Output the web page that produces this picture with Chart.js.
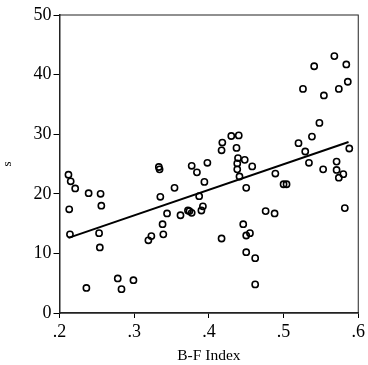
<!DOCTYPE html>
<html>
<head>
<meta charset="utf-8">
<script src="https://cdn.jsdelivr.net/npm/chart.js@4"></script>
<style>
  html, body { margin: 0; padding: 0; background: #fff; }
  #scatter-chart { display: block; }
</style>
</head>
<body>
<canvas id="scatter-chart" width="368" height="365"></canvas>
<script>
// B-F index vs s
const bfIndex = [
  0.212, 0.215, 0.221, 0.239, 0.255, 0.213, 0.256, 0.214, 0.253, 0.254,
  0.319, 0.323, 0.278, 0.299, 0.283, 0.236, 0.333, 0.334, 0.377, 0.398,
  0.384, 0.418, 0.417, 0.430, 0.440, 0.437, 0.439, 0.448, 0.438, 0.438,
  0.441, 0.394, 0.354, 0.335, 0.387, 0.450, 0.344, 0.362, 0.372, 0.374,
  0.377, 0.390, 0.392, 0.338, 0.339, 0.417, 0.446, 0.450, 0.455, 0.450,
  0.462, 0.462, 0.476, 0.488, 0.582, 0.500, 0.504, 0.489, 0.458, 0.568,
  0.584, 0.541, 0.586, 0.574, 0.526, 0.554, 0.548, 0.538, 0.520, 0.529,
  0.588, 0.534, 0.553, 0.571, 0.571, 0.574, 0.580,
];
const sValues = [
  23.2, 22.1, 20.9, 20.1, 20.0, 17.4, 18.0, 13.2, 13.4, 11.0,
  12.2, 12.9, 5.8, 5.5, 4.0, 4.2, 24.5, 24.1, 24.7, 25.2,
  23.6, 28.6, 27.3, 29.7, 29.8, 27.7, 26.0, 25.7, 25.1, 24.1,
  22.9, 22.0, 21.0, 19.5, 19.6, 21.0, 16.7, 16.4, 17.2, 17.1,
  16.8, 17.2, 17.9, 14.9, 13.2, 12.5, 14.9, 13.0, 13.4, 10.2,
  9.2, 4.8, 17.1, 16.7, 17.6, 21.6, 21.6, 23.4, 24.6, 43.1,
  41.7, 41.4, 38.8, 37.6, 37.6, 36.5, 31.9, 29.6, 28.5, 27.1,
  27.6, 25.2, 24.1, 25.4, 24.0, 22.7, 23.3,
];
// fitted line end points
const fitX = [0.212, 0.587];
const fitY = [12.6, 28.7];

const xTicks = [0.2, 0.3, 0.4, 0.5, 0.6];
const yTicks = [0, 10, 20, 30, 40, 50];

const serif = "'Liberation Serif', 'Times New Roman', serif";

const boxPlugin = {
  id: "box",
  afterDraw(chart) {
    const { ctx, chartArea } = chart;
    ctx.save();
    ctx.strokeStyle = "#222";
    ctx.lineWidth = 1;
    ctx.strokeRect(chartArea.left, chartArea.top, chartArea.right - chartArea.left, chartArea.bottom - chartArea.top);
    ctx.restore();
  },
};

const scatterChart = document.getElementById("scatter-chart");
const scatterChartInstance = new Chart(scatterChart, {
  type: "scatter",
  data: {
    datasets: [
      {
        label: "s",
        data: bfIndex.map((x, i) => ({ x: x, y: sValues[i] })),
        pointStyle: "circle",
        pointRadius: 3.1,
        pointBorderWidth: 1.6,
        pointBorderColor: "#000",
        pointBackgroundColor: "rgba(0,0,0,0)",
      },
      {
        type: "line",
        label: "fit",
        data: fitX.map((x, i) => ({ x: x, y: fitY[i] })),
        borderColor: "#000",
        borderWidth: 2,
        pointRadius: 0,
        fill: false,
      },
    ],
  },
  options: {
    responsive: false,
    animation: false,
    layout: {
      padding: { top: 15, right: 8.5, bottom: 0, left: 0 },
    },
    plugins: {
      legend: { display: false },
      tooltip: { enabled: false },
    },
    scales: {
      x: {
        type: "linear",
        min: 0.2,
        max: 0.6,
        afterBuildTicks: (scale) => {
          scale.ticks = xTicks.map((v) => ({ value: v }));
        },
        afterFit: (scale) => {
          scale.height = 52;
        },
        ticks: {
          color: "#000",
          padding: 3,
          maxRotation: 0,
          font: { family: serif, size: 18 },
          callback: (v) => v.toFixed(1).replace(/^0/, ""),
        },
        grid: {
          drawOnChartArea: false,
          drawTicks: true,
          tickLength: 5,
          color: "#000",
        },
        border: { display: true, color: "#222", width: 1.5 },
        title: {
          display: true,
          text: "B-F Index",
          color: "#000",
          padding: { top: 0, bottom: 0 },
          font: { family: serif, size: 15.5 },
        },
      },
      y: {
        type: "linear",
        min: 0,
        max: 50,
        afterBuildTicks: (scale) => {
          scale.ticks = yTicks.map((v) => ({ value: v }));
        },
        afterFit: (scale) => {
          scale.width = 59.5;
        },
        ticks: {
          color: "#000",
          padding: 2,
          font: { family: serif, size: 18 },
        },
        grid: {
          drawOnChartArea: false,
          drawTicks: true,
          tickLength: 6,
          color: "#000",
        },
        border: { display: true, color: "#222", width: 1.5 },
        title: {
          display: true,
          text: "s",
          color: "#000",
          padding: { top: 0, bottom: 0 },
          font: { family: serif, size: 13 },
        },
      },
    },
  },
  plugins: [boxPlugin],
});
</script>
</body>
</html>
